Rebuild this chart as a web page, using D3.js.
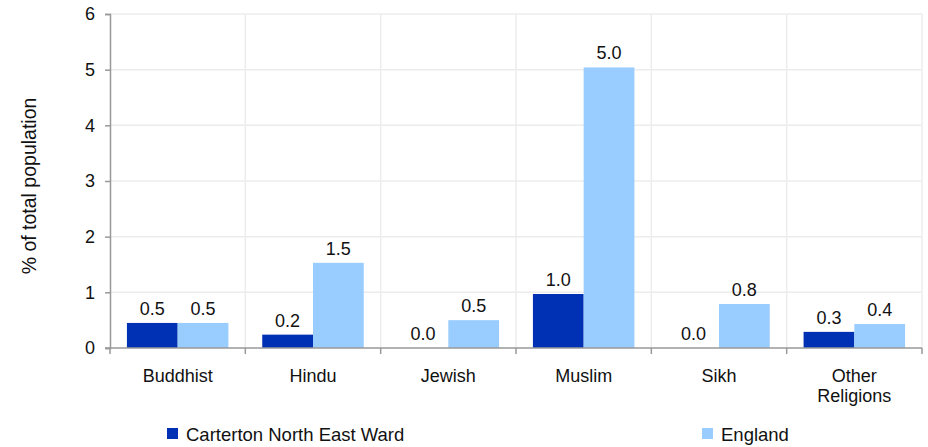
<!DOCTYPE html>
<html><head><meta charset="utf-8">
<script src="https://cdn.jsdelivr.net/npm/d3@7"></script>
<style>body{margin:0;background:#fff}svg{display:block;font-family:"Liberation Sans",Arial,sans-serif}</style>
</head><body><svg id="c" width="928" height="447"></svg>
<script>
const categories = ["Buddhist","Hindu","Jewish","Muslim","Sikh","Other Religions"];
const seriesNames = ["Carterton North East Ward","England"];
const wardValues = [0.45,0.24,0.0,0.97,0.0,0.29];
const englandValues = [0.45,1.53,0.50,5.04,0.79,0.43];
const wardLabels = ["0.5","0.2","0.0","1.0","0.0","0.3"];
const englandLabels = ["0.5","1.5","0.5","5.0","0.8","0.4"];
const yTicks = [0,1,2,3,4,5,6];
const colors = ["#0030B4","#99CCFF"];

(function(){
const svg = d3.select("#c");
const pL=110, pR=922, pT=14, pB=348;
const FS = 18;
const x = d3.scaleBand().domain(categories).range([pL,pR]).paddingInner(0.25).paddingOuter(0.125);
const xs = d3.scaleBand().domain([0,1]).range([0,x.bandwidth()]);
const y = d3.scaleLinear().domain([0,6]).range([pB,pT]);

svg.append("g").selectAll("line").data(yTicks.filter(d=>d>0)).join("line")
  .attr("x1",pL).attr("x2",pR).attr("y1",d=>y(d)).attr("y2",d=>y(d))
  .attr("stroke","#ececec").attr("stroke-width",1.5);
const step = x.step();
const bounds = d3.range(1,categories.length+1).map(i=>pL+i*step);
svg.append("g").selectAll("line").data(bounds).join("line")
  .attr("x1",d=>d).attr("x2",d=>d).attr("y1",pT).attr("y2",pB)
  .attr("stroke","#ececec").attr("stroke-width",1.5);

const series = [wardValues, englandValues];
const labels = [wardLabels, englandLabels];
series.forEach((vals,si)=>{
  svg.append("g").selectAll("rect").data(vals).join("rect")
    .attr("x",(d,i)=>x(categories[i])+xs(si)).attr("width",xs.bandwidth())
    .attr("y",d=>y(d)).attr("height",d=>y(0)-y(d)).attr("fill",colors[si]);
  svg.append("g").selectAll("text").data(vals).join("text")
    .attr("x",(d,i)=>x(categories[i])+xs(si)+xs.bandwidth()/2)
    .attr("y",d=>y(d)-8).attr("text-anchor","middle")
    .attr("font-size",FS).attr("fill","#111")
    .text((d,i)=>labels[si][i]);
});

const yAxis = svg.append("g").attr("transform",`translate(${pL},0)`)
  .call(d3.axisLeft(y).tickValues(yTicks).tickFormat(d3.format("d")).tickSize(5).tickPadding(10));
yAxis.select(".domain").attr("stroke","#999").attr("stroke-width",1.5);
yAxis.selectAll(".tick line").attr("stroke","#999").attr("stroke-width",1.5);
yAxis.selectAll(".tick text").attr("font-size",FS).attr("fill","#111").attr("font-family","Liberation Sans, Arial, sans-serif");

svg.append("line").attr("x1",pL-5).attr("x2",pR).attr("y1",pB).attr("y2",pB)
  .attr("stroke","#999").attr("stroke-width",1.5);
svg.append("g").selectAll("line").data([pL,...bounds]).join("line")
  .attr("x1",d=>d).attr("x2",d=>d).attr("y1",pB).attr("y2",pB+6)
  .attr("stroke","#999").attr("stroke-width",1.5);
const xl = svg.append("g").selectAll("text").data(categories).join("text")
  .attr("x",d=>x(d)+x.bandwidth()/2).attr("y",382).attr("text-anchor","middle")
  .attr("font-size",FS).attr("fill","#111");
xl.each(function(d){
  const words = d==="Other Religions" ? ["Other","Religions"] : [d];
  d3.select(this).selectAll("tspan").data(words).join("tspan")
    .attr("x",x(d)+x.bandwidth()/2).attr("dy",(w,i)=>i===0?0:20).text(w=>w);
});

svg.append("text").attr("transform","translate(36,186) rotate(-90)")
  .attr("text-anchor","middle").attr("font-size",19.5).attr("fill","#111")
  .text("% of total population");

const legX = [167,702];
seriesNames.forEach((n,i)=>{
  svg.append("rect").attr("x",legX[i]).attr("y",428).attr("width",11).attr("height",11).attr("fill",colors[i]);
  svg.append("text").attr("x",legX[i]+19).attr("y",441).attr("font-size",18.5).attr("fill","#111").text(n);
});
})();
</script></body></html>
